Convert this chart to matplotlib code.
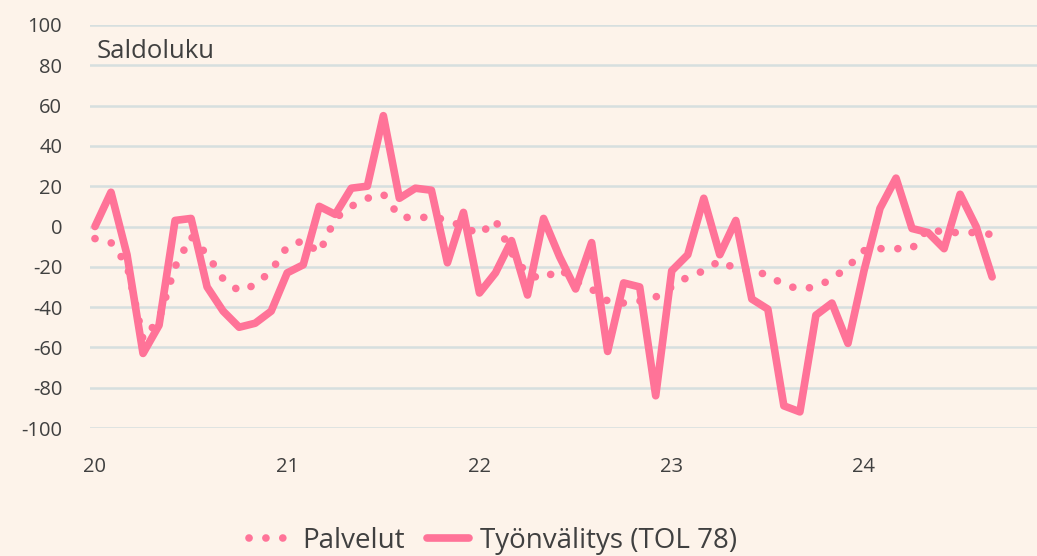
import matplotlib.pyplot as plt
import numpy as np

# Monthly balance figures, Jan 2020 - Sep 2024
palvelut = [-6, -8, -19, -56, -46, -20, -5, -14, -26, -32, -29, -22,
            -10, -7, -13, 4, 10, 14, 16, 5, 4, 5, 3, 0,
            -4, 3, -13, -24, -26, -21, -27, -31, -37, -38, -37, -35,
            -30, -25, -22, -17, -21, -22, -24, -29, -31, -30, -26, -20,
            -12, -11, -11, -11, -1, -3, -3, -3, -4]
tyonvalitys = [0, 17, -14, -63, -49, 3, 4, -30, -42, -50, -48, -42,
               -23, -19, 10, 6, 19, 20, 55, 14, 19, 18, -18, 7,
               -33, -23, -7, -34, 4, -15, -31, -8, -62, -28, -30, -84,
               -22, -14, 14, -14, 3, -36, -41, -89, -92, -44, -38, -58,
               -22, 9, 24, -1, -3, -11, 16, 0, -25]
year_labels = ['20', '21', '22', '23', '24']
y_ticks = [-100, -80, -60, -40, -20, 0, 20, 40, 60, 80, 100]

months = np.arange(len(tyonvalitys))

bg = '#FDF3EA'
pink = '#FF7398'
text_color = '#404040'

plt.rcParams['font.family'] = ['Open Sans', 'DejaVu Sans']

fig = plt.figure(figsize=(10.37, 5.56), dpi=100, facecolor=bg)
ax = fig.add_axes([90 / 1037, 128 / 556, 947 / 1037, 403 / 556])
ax.set_facecolor(bg)

# Palvelut as round dots, Työnvälitys as a thick solid line
ax.plot(months, palvelut, color=pink, linewidth=5.5, linestyle=(0, (0.01, 2.2)),
        dash_capstyle='round', label='Palvelut', clip_on=False)
ax.plot(months, tyonvalitys, color=pink, linewidth=5.5, solid_joinstyle='round',
        solid_capstyle='round', label='Työnvälitys (TOL 78)', clip_on=False)

ax.set_ylim(-100, 100)
ax.set_xlim(-0.31, 58.8)
ax.set_yticks(y_ticks)
ax.set_yticklabels([str(t) for t in y_ticks])
ax.set_xticks(np.arange(0, 60, 12))
ax.set_xticklabels(year_labels)

ax.grid(True, axis='y', color='#D6DFDF', linewidth=1.8)
ax.set_axisbelow(True)
for s in ax.spines.values():
    s.set_visible(False)
ax.tick_params(axis='both', length=0, labelsize=14.5, labelcolor=text_color)
ax.tick_params(axis='y', pad=20)
ax.tick_params(axis='x', pad=21)

fig.text(97 / 1037, 1 - 58 / 556, 'Saldoluku', fontsize=18.5, color=text_color,
         va='baseline', ha='left')

# Legend below the plot
fig.legend(loc='center', bbox_to_anchor=(493 / 1037, 1 - 541 / 556), ncol=2,
           frameon=False, fontsize=20, handlelength=1.5, handletextpad=0.4,
           columnspacing=0.8, labelcolor=text_color)

fig.savefig('out.png', dpi=100, facecolor=bg)
